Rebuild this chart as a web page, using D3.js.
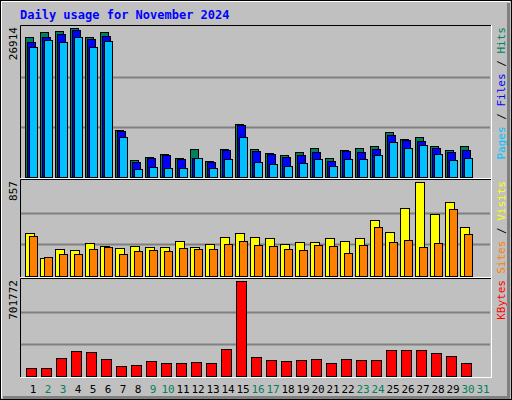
<!DOCTYPE html><html><head><meta charset="utf-8">
<script src="https://cdn.jsdelivr.net/npm/d3@7"></script>
<style>body{margin:0;background:#fff}</style></head><body><svg id="c" width="512" height="400"></svg>
<script>
const days = d3.range(1,32);
const weekend = [2,3,9,10,16,17,23,24,30,31];
const hits  = [25300,26200,26390,26914,25300,26200,8550,3090,3640,4190,3460,5100,2910,5100,9650,5100,4370,4000,4550,5280,3460,4910,5280,5640,8190,6920,7280,5640,4910,5640,0];
const files = [24390,25300,25840,26570,24930,25480,8370,2730,3460,4000,3280,3460,2730,4910,9460,4730,4190,3640,4000,4550,2910,4730,4550,5100,7640,6730,6550,5280,4550,4910,0];
const pages = [23480,24750,24390,25300,23480,24570,7280,1460,1820,1640,1640,3460,1640,3280,7280,2730,2370,2000,2550,3280,2000,3280,3280,4000,6370,5280,5820,4190,3090,3460,0];
const visits= [391,168,242,233,298,270,252,270,261,261,317,261,289,354,391,354,345,289,308,308,345,317,345,513,401,624,857,568,671,447,0];
const sites = [363,177,205,205,242,261,205,224,233,224,252,242,242,289,317,280,270,242,233,280,270,214,280,447,308,326,261,298,615,382,0];
const kbytes= [56100,56100,133000,187000,179000,125000,71500,79200,110000,94500,94500,102000,94500,202000,701772,141000,118000,110000,118000,125000,94500,125000,118000,118000,194000,194000,194000,171000,148000,94500,0];

const svg=d3.select("#c");
const F="DejaVu Sans Mono, monospace";
svg.append("rect").attr("width",512).attr("height",400).attr("fill","#c0c0c0");
// bevels
svg.append("rect").attr("x",0.5).attr("y",0.5).attr("width",511).attr("height",399).attr("fill","none").attr("stroke","#000");
svg.append("path").attr("d","M1.5,398V1.5H510").attr("stroke","#fff").attr("fill","none");
svg.append("path").attr("d","M508.5,3V397.5H3").attr("stroke","#808080").attr("stroke-width",3).attr("fill","none");
svg.append("text").attr("x",20).attr("y",19).attr("font-family",F).attr("font-weight","bold").attr("font-size",12).attr("fill","#0000ff").text("Daily usage for November 2024");

const x=d3.scaleBand().domain(days).range([25,490]).paddingInner(0).paddingOuter(0);
x.range([25,25+15*31]);

function panel(top,bot,max,label,series,right){
  svg.append("path").attr("d",`M20.5,${bot}V${top+0.5}H491`).attr("stroke","#000").attr("fill","none");
  svg.append("path").attr("d",`M20.5,${bot+0.5}H491.5V${top}`).attr("stroke","#fff").attr("fill","none");
  const base=bot-1, y=d3.scaleLinear().domain([0,max]).range([base,top+3]);
  const g=d3.scaleLinear().domain([0,3]).range([base,top+2]);
  [1,2].forEach(k=>svg.append("line").attr("x1",21).attr("x2",490).attr("y1",Math.round(g(k))+0.5).attr("y2",Math.round(g(k))+0.5).attr("stroke","#808080").attr("stroke-width",2));
  series.forEach(s=>{
    svg.append("g").selectAll("rect").data(days.filter((d,i)=>s.v[i]>0)).join("rect")
      .attr("x",d=>x(d)+s.off+0.5).attr("width",s.w).attr("y",d=>Math.round(y(s.v[d-1]))+0.5)
      .attr("height",d=>base-Math.round(y(s.v[d-1]))).attr("fill",s.c).attr("stroke","#000");
  });
  svg.append("text").attr("transform",`translate(17,${top+2}) rotate(-90)`).attr("text-anchor","end")
    .attr("font-family",F).attr("font-size",11).text(label);
  const t=svg.append("text").attr("transform",`translate(505,${top+2}) rotate(-90)`).attr("text-anchor","end")
    .attr("font-family",F).attr("font-size",11);
  right.forEach(r=>t.append("tspan").attr("fill",r[1]).text(r[0]));
}
panel(25,178,26914,"26914",[{v:hits,c:"#00805c",off:0,w:8},{v:files,c:"#0000ff",off:2,w:8},{v:pages,c:"#00c0ff",off:4,w:8}],
  [["Pages","#00c0ff"],[" / ","#000"],["Files","#0000ff"],[" / ","#000"],["Hits","#00805c"]]);
panel(179,277,857,"857",[{v:visits,c:"#ffff00",off:0,w:9},{v:sites,c:"#ff8000",off:4,w:8}],
  [["Sites","#ff8000"],[" / ","#000"],["Visits","#ffff00"]]);
panel(278,377,701772,"701772",[{v:kbytes,c:"#ff0000",off:1,w:10}],[["KBytes","#ff0000"]]);

svg.append("g").selectAll("text").data(days).join("text").attr("x",d=>x(d)+8).attr("y",393)
  .attr("text-anchor","middle").attr("font-family",F).attr("font-size",11)
  .attr("fill",d=>weekend.includes(d)?"#00805c":"#000").text(d=>d);
</script></body></html>
